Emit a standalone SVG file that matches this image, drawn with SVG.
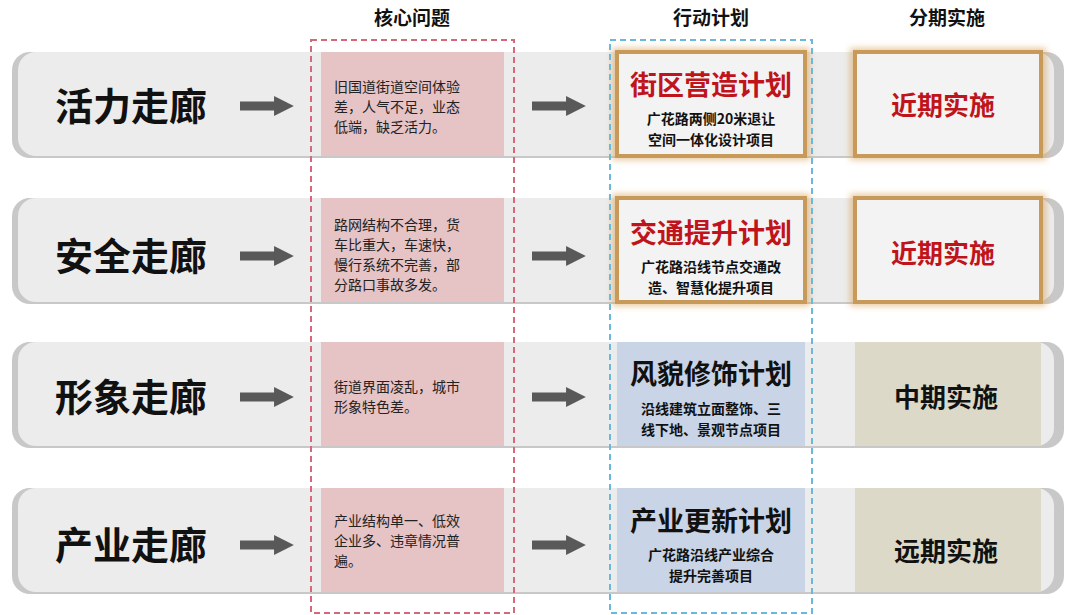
<svg xmlns="http://www.w3.org/2000/svg" width="1080" height="615" viewBox="0 0 1080 615">
<defs>
<filter id="glow" x="-20%" y="-20%" width="140%" height="140%"><feGaussianBlur stdDeviation="3"/></filter>
<marker id="ah" viewBox="0 0 10 10" refX="2" refY="5" markerWidth="2.2" markerHeight="2.2" orient="auto"><path d="M0,0L10,5L0,10Z" fill="#595959"/></marker>
</defs>
<style>
.row{fill:#ececec}.rowsh{fill:#c8c8c8}
.cor{font-family:"Noto Sans CJK SC",sans-serif;font-size:38px;font-weight:bold;fill:#111}
.hd{font-family:"Noto Sans CJK SC",sans-serif;font-size:19px;font-weight:bold;fill:#111}
.prob{fill:#e6c3c5}
.pt{font-family:"Noto Sans CJK SC",sans-serif;font-size:14px;fill:#222}
.plan{fill:#f3f3f3;stroke:#c89a5a;stroke-width:4}
.planb{fill:#c9d4e6}
.pl{font-family:"Noto Sans CJK SC",sans-serif;font-size:27px;font-weight:bold}
.ps{font-family:"Noto Sans CJK SC",sans-serif;font-size:14px;font-weight:bold;fill:#111}
.ph{font-family:"Noto Sans CJK SC",sans-serif;font-size:26px;font-weight:bold}
.arr{stroke:#595959;stroke-width:9;marker-end:url(#ah)}
</style>
<text class="hd" x="412" y="25" text-anchor="middle">核心问题</text>
<text class="hd" x="711" y="25" text-anchor="middle">行动计划</text>
<text class="hd" x="947" y="25" text-anchor="middle">分期实施</text>
<g id="rows">
<rect class="rowsh" x="12" y="52" width="1052" height="106" rx="18"/><rect class="row" x="18" y="52" width="1036" height="104" rx="18"/>
<rect class="rowsh" x="12" y="198" width="1052" height="106" rx="18"/><rect class="row" x="18" y="198" width="1036" height="104" rx="18"/>
<rect class="rowsh" x="12" y="342" width="1052" height="106" rx="18"/><rect class="row" x="18" y="342" width="1036" height="104" rx="18"/>
<rect class="rowsh" x="12" y="488" width="1052" height="106" rx="18"/><rect class="row" x="18" y="488" width="1036" height="104" rx="18"/>
</g>
<g id="connectors">
<line class="arr" x1="240" y1="106" x2="278" y2="106"/><line class="arr" x1="532" y1="106" x2="570" y2="106"/>
<line class="arr" x1="240" y1="256" x2="278" y2="256"/><line class="arr" x1="532" y1="256" x2="570" y2="256"/>
<line class="arr" x1="240" y1="397" x2="278" y2="397"/><line class="arr" x1="532" y1="397" x2="570" y2="397"/>
<line class="arr" x1="240" y1="545" x2="278" y2="545"/><line class="arr" x1="532" y1="545" x2="570" y2="545"/>
</g>
<g id="corridors">
<text class="cor" x="55" y="120">活力走廊</text>
<text class="cor" x="55" y="270">安全走廊</text>
<text class="cor" x="55" y="411">形象走廊</text>
<text class="cor" x="55" y="559">产业走廊</text>
</g>
<g id="problems">
<rect class="prob" x="321" y="52" width="183" height="104"/>
<text class="pt" x="334" y="92">旧国道街道空间体验</text><text class="pt" x="334" y="112">差，人气不足，业态</text><text class="pt" x="334" y="132">低端，缺乏活力。</text>
<rect class="prob" x="321" y="198" width="183" height="104"/>
<text class="pt" x="334" y="230">路网结构不合理，货</text><text class="pt" x="334" y="250">车比重大，车速快，</text><text class="pt" x="334" y="270">慢行系统不完善，部</text><text class="pt" x="334" y="290">分路口事故多发。</text>
<rect class="prob" x="321" y="342" width="183" height="104"/>
<text class="pt" x="334" y="392">街道界面凌乱，城市</text><text class="pt" x="334" y="412">形象特色差。</text>
<rect class="prob" x="321" y="488" width="183" height="104"/>
<text class="pt" x="334" y="526">产业结构单一、低效</text><text class="pt" x="334" y="546">企业多、违章情况普</text><text class="pt" x="334" y="566">遍。</text>
</g>
<rect id="probframe" x="311" y="40" width="203" height="573" fill="none" stroke="#d46a78" stroke-width="2" stroke-dasharray="6,4"/>
<g id="plans">
<rect x="612" y="48" width="198" height="112" fill="#d9a45e" opacity="0.6" filter="url(#glow)"/>
<rect class="plan" x="617" y="52" width="188" height="104"/>
<text class="pl" x="711" y="95" text-anchor="middle" fill="#c0141c">街区营造计划</text>
<text class="ps" x="711" y="124" text-anchor="middle">广花路两侧20米退让</text><text class="ps" x="711" y="145" text-anchor="middle">空间一体化设计项目</text>
<rect x="612" y="194" width="198" height="112" fill="#d9a45e" opacity="0.6" filter="url(#glow)"/>
<rect class="plan" x="617" y="198" width="188" height="104"/>
<text class="pl" x="711" y="243" text-anchor="middle" fill="#c0141c">交通提升计划</text>
<text class="ps" x="711" y="272" text-anchor="middle">广花路沿线节点交通改</text><text class="ps" x="711" y="293" text-anchor="middle">造、智慧化提升项目</text>
<rect class="planb" x="617" y="342" width="188" height="104"/>
<text class="pl" x="711" y="384" text-anchor="middle" fill="#111">风貌修饰计划</text>
<text class="ps" x="711" y="414" text-anchor="middle">沿线建筑立面整饰、三</text><text class="ps" x="711" y="435" text-anchor="middle">线下地、景观节点项目</text>
<rect class="planb" x="617" y="488" width="188" height="104"/>
<text class="pl" x="711" y="531" text-anchor="middle" fill="#111">产业更新计划</text>
<text class="ps" x="711" y="560" text-anchor="middle">广花路沿线产业综合</text><text class="ps" x="711" y="581" text-anchor="middle">提升完善项目</text>
</g>
<rect id="planframe" x="610" y="40" width="202" height="573" fill="none" stroke="#6bb8dd" stroke-width="2" stroke-dasharray="6,4"/>
<g id="phases">
<rect x="850" y="48" width="196" height="112" fill="#d9a45e" opacity="0.6" filter="url(#glow)"/>
<rect class="plan" x="855" y="52" width="186" height="104"/>
<text class="ph" x="943" y="115" text-anchor="middle" fill="#c0141c">近期实施</text>
<rect x="850" y="194" width="196" height="112" fill="#d9a45e" opacity="0.6" filter="url(#glow)"/>
<rect class="plan" x="855" y="198" width="186" height="104"/>
<text class="ph" x="943" y="263" text-anchor="middle" fill="#c0141c">近期实施</text>
<rect x="855" y="342" width="186" height="104" fill="#dcd9c8"/>
<text class="ph" x="946" y="407" text-anchor="middle" fill="#111">中期实施</text>
<rect x="855" y="488" width="186" height="104" fill="#dcd9c8"/>
<text class="ph" x="946" y="561" text-anchor="middle" fill="#111">远期实施</text>
</g>
</svg>
